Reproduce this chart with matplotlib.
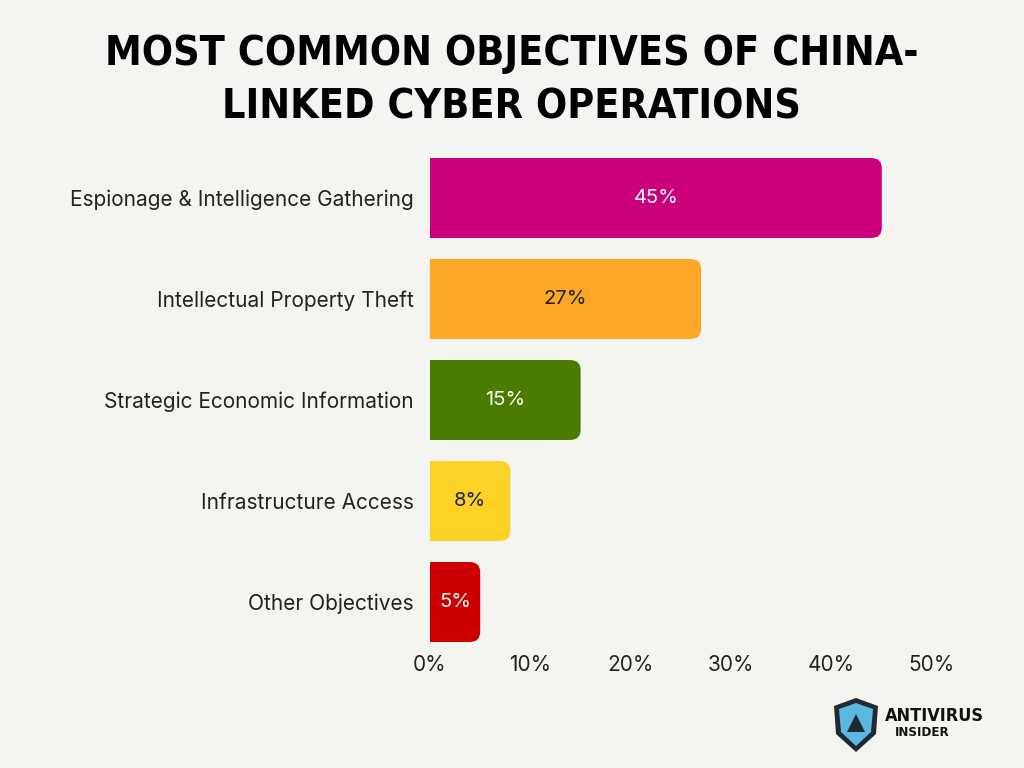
import matplotlib
matplotlib.use("Agg")
import matplotlib.pyplot as plt
from matplotlib.patches import FancyBboxPatch, Polygon

categories = ["Espionage & Intelligence Gathering", "Intellectual Property Theft",
              "Strategic Economic Information", "Infrastructure Access", "Other Objectives"]
values = [45, 27, 15, 8, 5]
colors = ["#cc007a", "#fda729", "#4a7c00", "#fdd227", "#cc0000"]
label_colors = ["white", "#222222", "white", "#222222", "white"]
xticks = [0, 10, 20, 30, 40, 50]
xtick_labels = ["0%", "10%", "20%", "30%", "40%", "50%"]
title = "MOST COMMON OBJECTIVES OF CHINA-\nLINKED CYBER OPERATIONS"

BG = "#f4f4f0"
fig = plt.figure(figsize=(10.24, 7.68), dpi=100, facecolor=BG)
ax = fig.add_axes([430/1024, 1 - 652.5/768, 502/1024, 505/768])
ax.set_facecolor(BG)

ys = list(range(len(categories)))
h = 0.79
rx, ry = 1.0, 0.1
for y, v, c in zip(ys, values, colors):
    ax.barh(y, v - rx, height=h, color=c, linewidth=0)
    p = FancyBboxPatch((v - 2 * rx, y - h / 2), 2 * rx, h,
                       boxstyle=f"round,pad=0,rounding_size={rx}",
                       mutation_aspect=ry / rx, facecolor=c, edgecolor="none")
    ax.add_patch(p)

FS = 15
for y, v, lc in zip(ys, values, label_colors):
    ax.text(v / 2, y, f"{v}%", ha="center", va="center", color=lc,
            fontsize=14.5, family=["Inter", "DejaVu Sans"])

ax.set_xlim(0, 50)
ax.set_ylim(4.5, -0.5)
ax.set_yticks(ys)
ax.set_yticklabels(categories, fontsize=FS, family=["Inter", "DejaVu Sans"], color="#222222")
ax.set_xticks(xticks)
ax.set_xticklabels(xtick_labels, fontsize=FS, family=["Inter", "DejaVu Sans"], color="#222222")
ax.tick_params(axis="both", length=0)
ax.tick_params(axis="y", pad=11.5)
ax.tick_params(axis="x", pad=2)
for s in ax.spines.values():
    s.set_visible(False)

fig.text(0.5, 0.895, title, ha="center", va="center", fontsize=29.5, fontweight="heavy",
         fontstretch="condensed", family=["DejaVu Sans"], color="#000000", linespacing=1.45)

# logo
lax = fig.add_axes([832/1024, 1 - 754/768, 160/1024, 58/768])
lax.set_xlim(0, 160)
lax.set_ylim(0, 58)
lax.axis("off")
shield_outer = [(2, 48), (24, 56), (46, 48), (44, 20), (24, 2), (4, 20)]
shield_inner = [(7, 45), (24, 51), (41, 45), (39, 22), (24, 8), (9, 22)]
lax.add_patch(Polygon(shield_outer, closed=True, facecolor="#1e2a33", edgecolor="none"))
lax.add_patch(Polygon(shield_inner, closed=True, facecolor="#5bb8e0", edgecolor="none"))
lax.add_patch(Polygon([(24, 40), (33, 22), (15, 22)], closed=True, facecolor="#1e2a33"))
lax.text(102, 38, "ANTIVIRUS", ha="center", va="center", fontsize=13, fontweight="heavy",
         fontstretch="condensed", family=["DejaVu Sans"], color="#111111")
lax.text(90, 21, "INSIDER", ha="center", va="center", fontsize=9.5, fontweight="heavy",
         fontstretch="condensed", family=["DejaVu Sans"], color="#111111")

fig.savefig("out.png", dpi=100, facecolor=BG)
